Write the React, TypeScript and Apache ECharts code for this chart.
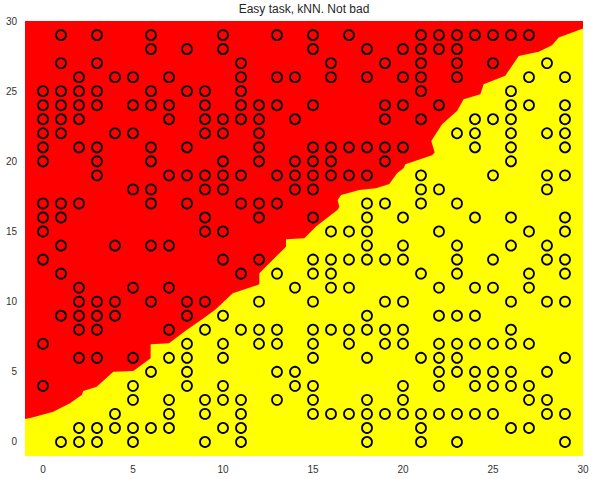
import React, { useEffect, useRef } from "react";
import * as echarts from "echarts";

const chartTitle = "Easy task, kNN. Not bad";
const xTicks = [0, 5, 10, 15, 20, 25, 30];
const yTicks = [0, 5, 10, 15, 20, 25, 30];
const xRange = [-1, 30];
const yRange = [-1, 30];

// class drawn in red (upper-left)
const redPoints: number[][] = [
  [1, 29], [3, 29], [6, 29], [10, 29], [13, 29], [15, 29], [17, 29], [21, 29], [22, 29], [23, 29], [24, 29], [25, 29], [26, 29], [27, 29],
  [6, 28], [8, 28], [10, 28], [15, 28], [18, 28], [20, 28], [21, 28], [22, 28], [23, 28],
  [1, 27], [3, 27], [11, 27], [16, 27], [19, 27], [21, 27], [23, 27], [25, 27],
  [2, 26], [4, 26], [5, 26], [7, 26], [11, 26], [13, 26], [14, 26], [16, 26], [18, 26], [20, 26], [21, 26], [23, 26],
  [0, 25], [1, 25], [2, 25], [3, 25], [6, 25], [8, 25], [9, 25], [11, 25], [21, 25],
  [0, 24], [1, 24], [2, 24], [3, 24], [5, 24], [6, 24], [7, 24], [9, 24], [11, 24], [12, 24], [13, 24], [15, 24], [19, 24], [20, 24], [22, 24],
  [0, 23], [1, 23], [2, 23], [7, 23], [9, 23], [10, 23], [11, 23], [12, 23], [14, 23], [19, 23], [21, 23],
  [0, 22], [1, 22], [4, 22], [5, 22], [9, 22], [10, 22], [12, 22],
  [0, 21], [2, 21], [3, 21], [6, 21], [8, 21], [12, 21], [15, 21], [16, 21], [17, 21], [18, 21], [19, 21], [20, 21],
  [0, 20], [3, 20], [6, 20], [10, 20], [12, 20], [14, 20], [15, 20], [16, 20], [19, 20],
  [3, 19], [7, 19], [8, 19], [9, 19], [10, 19], [11, 19], [13, 19], [14, 19], [15, 19], [16, 19], [17, 19], [18, 19],
  [5, 18], [6, 18], [9, 18], [10, 18], [14, 18], [15, 18],
  [0, 17], [1, 17], [2, 17], [6, 17], [8, 17], [11, 17], [12, 17], [13, 17],
  [0, 16], [1, 16], [9, 16], [12, 16], [15, 16],
  [0, 15], [9, 15], [10, 15],
  [1, 14], [4, 14], [6, 14], [7, 14],
  [0, 13], [10, 13], [12, 13],
  [1, 12], [11, 12],
  [2, 11], [5, 11], [7, 11],
  [2, 10], [3, 10], [4, 10], [6, 10], [8, 10], [9, 10],
  [1, 9], [2, 9], [3, 9], [4, 9], [8, 9],
  [2, 8], [3, 8], [7, 8],
  [0, 7],
  [2, 6], [3, 6], [5, 6],
  [0, 4],
];

// class drawn in yellow (lower-right)
const yellowPoints: number[][] = [
  [28, 27],
  [27, 26], [29, 26],
  [26, 25],
  [26, 24], [27, 24], [29, 24],
  [24, 23], [25, 23], [26, 23], [29, 23],
  [23, 22], [24, 22], [26, 22], [28, 22], [29, 22],
  [24, 21], [26, 21], [29, 21],
  [26, 20],
  [21, 19], [25, 19], [28, 19], [29, 19],
  [21, 18], [22, 18], [28, 18],
  [18, 17], [19, 17], [21, 17], [23, 17],
  [18, 16], [20, 16], [24, 16], [26, 16], [29, 16],
  [16, 15], [17, 15], [18, 15], [22, 15], [27, 15], [29, 15],
  [18, 14], [20, 14], [23, 14], [26, 14], [28, 14],
  [15, 13], [16, 13], [17, 13], [18, 13], [19, 13], [20, 13], [23, 13], [25, 13], [28, 13], [29, 13],
  [13, 12], [15, 12], [16, 12], [21, 12], [23, 12], [27, 12], [29, 12],
  [14, 11], [16, 11], [17, 11], [22, 11], [24, 11], [25, 11], [27, 11],
  [12, 10], [15, 10], [19, 10], [20, 10], [26, 10], [28, 10], [29, 10],
  [10, 9], [18, 9], [22, 9], [23, 9], [24, 9],
  [9, 8], [11, 8], [12, 8], [13, 8], [15, 8], [16, 8], [17, 8], [18, 8], [19, 8], [20, 8], [26, 8],
  [8, 7], [10, 7], [12, 7], [13, 7], [15, 7], [17, 7], [19, 7], [20, 7], [22, 7], [23, 7], [24, 7], [25, 7], [26, 7], [27, 7],
  [7, 6], [8, 6], [10, 6], [15, 6], [18, 6], [21, 6], [22, 6], [23, 6], [29, 6],
  [6, 5], [8, 5], [13, 5], [14, 5], [22, 5], [23, 5], [24, 5], [25, 5], [26, 5], [28, 5],
  [5, 4], [8, 4], [10, 4], [14, 4], [15, 4], [20, 4], [22, 4], [24, 4], [25, 4], [26, 4], [27, 4],
  [5, 3], [7, 3], [9, 3], [10, 3], [11, 3], [13, 3], [15, 3], [18, 3], [20, 3], [27, 3], [28, 3],
  [4, 2], [7, 2], [9, 2], [11, 2], [15, 2], [16, 2], [17, 2], [18, 2], [19, 2], [20, 2], [21, 2], [22, 2], [23, 2], [24, 2], [25, 2], [28, 2], [29, 2],
  [2, 1], [3, 1], [4, 1], [5, 1], [6, 1], [7, 1], [10, 1], [11, 1], [18, 1], [21, 1], [26, 1], [27, 1],
  [1, 0], [2, 0], [3, 0], [5, 0], [9, 0], [11, 0], [18, 0], [21, 0], [23, 0], [29, 0],
];

// kNN decision boundary (red above, yellow below), left to right
const boundary: number[][] = [
  [-1, 1.64], [-0.7, 1.7], [0.57, 2.15], [1.5, 2.76], [2.15, 3.35], [2.24, 3.64], [2.98, 3.94],
  [3.91, 5.0], [5.02, 5.06], [5.98, 5.96], [5.98, 6.96], [7.0, 7.03], [7.98, 7.98], [8.9, 8.8],
  [9.6, 9.45], [10.54, 10.6], [11.93, 11.19], [12.02, 11.26], [12.02, 12.02], [13.5, 13.92],
  [13.5, 14.45], [14.52, 14.52], [15.17, 15.35], [16.37, 16.54], [16.46, 16.77], [16.37, 17.25],
  [16.56, 17.6], [17.57, 17.96], [18.5, 18.08], [19.24, 18.39], [19.67, 19.15], [20.04, 19.53],
  [20.13, 19.79], [21.61, 20.43], [21.76, 20.62], [21.57, 21.45], [22.17, 22.64], [23.0, 23.59],
  [23.37, 24.42], [24.3, 24.78], [24.48, 25.5], [25.68, 26.09], [26.43, 27.51], [27.54, 27.8],
  [28.28, 28.27], [28.65, 28.82], [30, 29.46],
];

const fontFamily = "'Liberation Sans', Arial, sans-serif";

export default function App() {
  const ref = useRef<HTMLDivElement>(null);
  useEffect(() => {
    document.body.style.margin = "0";
    const chart = echarts.init(ref.current!, null, { renderer: "svg" });
    chart.setOption({
      animation: false,
      backgroundColor: "#ffffff",
      title: {
        text: chartTitle,
        left: 304,
        top: 3,
        padding: 0,
        textAlign: "center",
        textStyle: { fontSize: 12, fontWeight: "normal", color: "#262626", fontFamily },
      },
      grid: {
        left: 25,
        top: 21,
        right: 13,
        bottom: 23,
        show: true,
        backgroundColor: "#ff0000",
        borderWidth: 0,
      },
      xAxis: {
        type: "value",
        min: xRange[0],
        max: xRange[1],
        axisLine: { show: false },
        axisTick: { show: false },
        splitLine: { show: false },
        axisLabel: { customValues: xTicks, margin: 8, fontSize: 10, color: "#333", fontFamily },
      },
      yAxis: {
        type: "value",
        min: yRange[0],
        max: yRange[1],
        axisLine: { show: false },
        axisTick: { show: false },
        splitLine: { show: false },
        axisLabel: { customValues: yTicks, margin: 8, fontSize: 10, color: "#333", fontFamily },
      },
      series: [
        {
          type: "custom",
          data: boundary,
          encode: { x: 0, y: 1 },
          silent: true,
          z: 1,
          renderItem: (params: any, api: any) => {
            if (params.dataIndex !== 0) return null;
            const pts = boundary.map((p) => api.coord(p));
            pts.push(api.coord([xRange[1], yRange[0]]));
            pts.push(api.coord([xRange[0], yRange[0]]));
            return {
              type: "polygon",
              shape: { points: pts },
              style: { fill: "#ffff00", stroke: null },
            };
          },
        },
        {
          type: "scatter",
          data: redPoints,
          symbol: "circle",
          symbolSize: 10,
          z: 3,
          itemStyle: { color: "#ff0000", borderColor: "#000000", borderWidth: 1.8, opacity: 1 },
        },
        {
          type: "scatter",
          data: yellowPoints,
          symbol: "circle",
          symbolSize: 10,
          z: 3,
          itemStyle: { color: "#ffff00", borderColor: "#000000", borderWidth: 1.8, opacity: 1 },
        },
      ],
    });
    return () => chart.dispose();
  }, []);
  return <div ref={ref} style={{ width: 596, height: 479 }} />;
}
